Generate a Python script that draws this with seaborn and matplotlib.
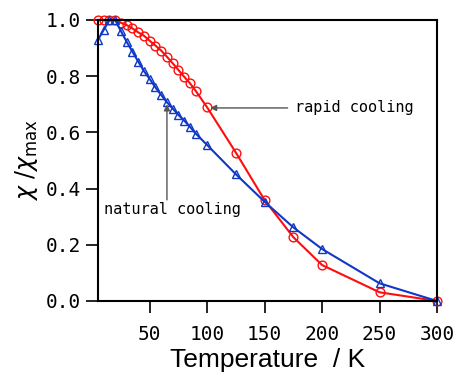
import numpy as np
import pandas as pd
import matplotlib
matplotlib.use("Agg")
import matplotlib.pyplot as plt
import seaborn as sns

# temperature (K) and normalised susceptibility
temp = [5, 10, 15, 20, 25, 30, 35, 40, 45, 50, 55, 60, 65, 70, 75, 80, 85, 90,
        100, 125, 150, 175, 200, 250, 300]
rapid = [1.0, 1.0, 1.0, 1.0, 0.99, 0.982, 0.97, 0.956, 0.944, 0.926, 0.909, 0.891,
         0.869, 0.846, 0.822, 0.798, 0.775, 0.748, 0.689, 0.528, 0.359, 0.227,
         0.128, 0.031, 0.0]
natural = [0.93, 0.965, 1.0, 1.0, 0.96, 0.922, 0.887, 0.852, 0.818, 0.79, 0.76,
           0.733, 0.707, 0.685, 0.662, 0.642, 0.62, 0.596, 0.555, 0.451, 0.353,
           0.262, 0.185, 0.063, 0.0]
xticks = [50, 100, 150, 200, 250, 300]
yticks = [0.0, 0.2, 0.4, 0.6, 0.8, 1.0]

df = pd.DataFrame({"T": temp * 2,
                   "chi": rapid + natural,
                   "cooling": ["rapid"] * len(temp) + ["natural"] * len(temp)})

sns.set_style("ticks")
plt.rcParams["mathtext.fontset"] = "dejavusans"
plt.rcParams["text.color"] = "black"
plt.rcParams["axes.labelcolor"] = "black"
plt.rcParams["xtick.color"] = "black"
plt.rcParams["ytick.color"] = "black"

fig = plt.figure(figsize=(4.54, 3.76), dpi=100)
ax = fig.add_axes([98 / 454, 75 / 376, 339 / 454, 281 / 376])

red = "#ff0d0d"
blue = "#1038c8"
sns.lineplot(data=df[df.cooling == "rapid"], x="T", y="chi", ax=ax, color=red,
             lw=1.5, marker="o", markersize=6.3, markerfacecolor="none",
             markeredgecolor=red, markeredgewidth=1.0, clip_on=False)
sns.lineplot(data=df[df.cooling == "natural"], x="T", y="chi", ax=ax, color=blue,
             lw=1.5, marker="^", markersize=5.8, markerfacecolor="none",
             markeredgecolor=blue, markeredgewidth=1.0, clip_on=False)

ax.set_xlim(5, 300)
ax.set_ylim(0, 1.0)
ax.set_xticks(xticks)
ax.set_yticks(yticks)
ax.set_xticklabels([str(t) for t in xticks], family="DejaVu Sans Mono", fontsize=14)
ax.set_yticklabels(["%.1f" % t for t in yticks], family="DejaVu Sans Mono", fontsize=14)
ax.tick_params(direction="out", length=8.5, width=1.2, color="black", labelcolor="black")
ax.tick_params(axis="x", pad=9)
ax.tick_params(axis="y", pad=4)
for s in ax.spines.values():
    s.set_visible(True)
    s.set_linewidth(1.5)
    s.set_color("black")

ax.set_xlabel("Temperature  / K", family="Liberation Sans", fontsize=19, labelpad=3)
ax.set_ylabel(r"$\chi$ /$\chi_{\mathrm{max}}$", fontsize=17, labelpad=4)

# annotations
ax.annotate("", xy=(102.5, 0.687), xytext=(170, 0.687),
            arrowprops=dict(arrowstyle="-|>", color="#555555", lw=1.0,
                            mutation_scale=9, shrinkA=0, shrinkB=0))
ax.text(176, 0.687, "rapid cooling", family="DejaVu Sans Mono", fontsize=11,
        va="center", ha="left")
ax.annotate("", xy=(65, 0.70), xytext=(65, 0.36),
            arrowprops=dict(arrowstyle="-|>", color="#555555", lw=1.0,
                            mutation_scale=9, shrinkA=0, shrinkB=0))
ax.text(10.5, 0.325, "natural cooling", family="DejaVu Sans Mono", fontsize=11,
        va="center", ha="left")

fig.savefig("out.png", dpi=100)
